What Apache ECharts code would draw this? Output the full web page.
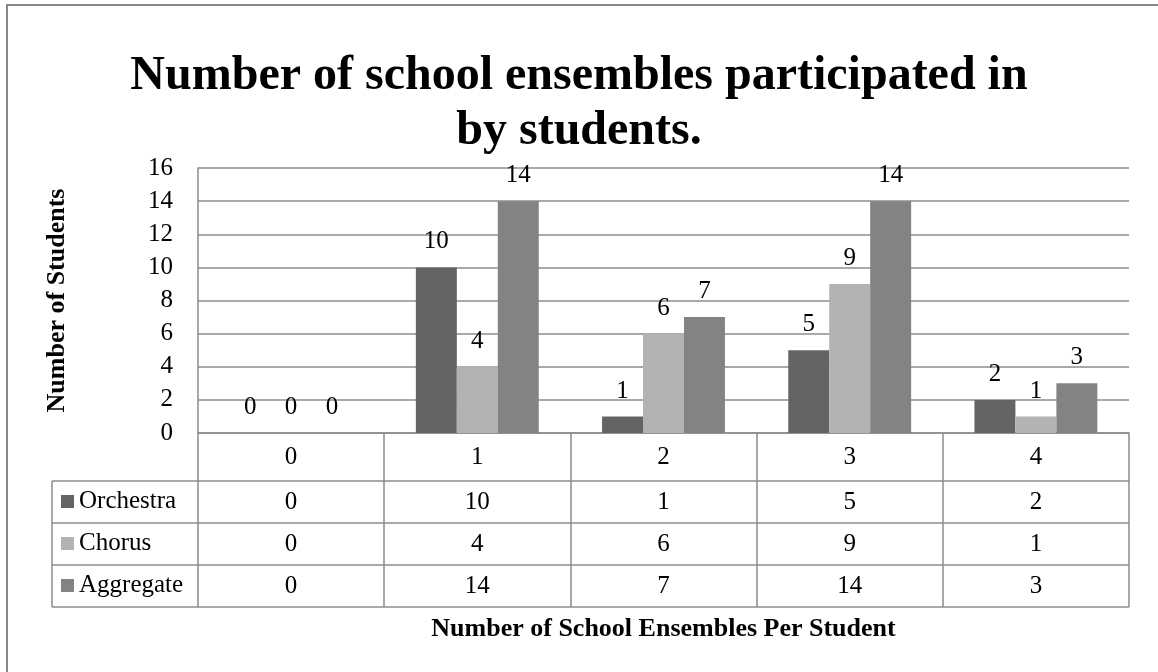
<!DOCTYPE html>
<html><head><meta charset="utf-8">
<script src="https://cdn.jsdelivr.net/npm/echarts@6/dist/echarts.min.js"></script>
<style>html,body{margin:0;padding:0;background:#fff}#c{width:1158px;height:672px}</style>
</head><body><div id="c"></div>
<script>
// ---- data ----
const categories = ['0', '1', '2', '3', '4'];
const seriesNames = ['Orchestra', 'Chorus', 'Aggregate'];
const orchestra = [0, 10, 1, 5, 2];
const chorus = [0, 4, 6, 9, 1];
const aggregate = [0, 14, 7, 14, 3];
const yMin = 0, yMax = 16, yInterval = 2;
const titleText = 'Number of school ensembles participated in\nby students.';
const xTitle = 'Number of School Ensembles Per Student';
const yTitle = 'Number of Students';

// ---- style ----
const FONT = "'Liberation Serif','Times New Roman',serif";
const colors = ['#646464', '#b3b3b3', '#838383'];
const W = 1158, H = 672;
const gLeft = 198, gRight = 1129, gTop = 168, gBottom = 433;
const headerH = 48, rowH = 42;
const tableLeft = 52;
const lineColor = '#8c8c8c';
const lw = 1.5;
const rows = [orchestra, chorus, aggregate];
const tableBottom = gBottom + headerH + rowH * rows.length;

const chart = echarts.init(document.getElementById('c'), null, {renderer: 'canvas'});

const xAxes = [{
  type: 'category', data: categories, position: 'bottom', gridIndex: 0,
  axisLine: {show: true, lineStyle: {color: lineColor, width: lw}},
  axisTick: {show: true, length: tableBottom - gBottom, lineStyle: {color: lineColor, width: lw}},
  axisLabel: {fontSize: 25, color: '#000', fontFamily: FONT, margin: headerH / 2, verticalAlign: 'middle', lineHeight: 25},
  splitLine: {show: false},
  name: xTitle, nameLocation: 'middle', nameGap: 183,
  nameTextStyle: {fontSize: 26, fontWeight: 'bold', color: '#000', fontFamily: FONT, lineHeight: 26}
}];
rows.forEach((r, i) => {
  xAxes.push({
    type: 'category', data: categories, position: 'bottom', gridIndex: 0,
    axisLine: {show: false}, axisTick: {show: false}, splitLine: {show: false},
    axisLabel: {
      fontSize: 25, color: '#000', fontFamily: FONT, verticalAlign: 'middle', lineHeight: 25,
      margin: headerH + rowH * i + rowH / 2,
      formatter: (v, idx) => String(r[idx])
    }
  });
});

const graphics = [
  {type: 'rect', shape: {x: 7, y: 5, width: W + 20, height: H + 20}, style: {fill: 'none', stroke: '#888', lineWidth: 2}, silent: true}
];
for (let i = 0; i <= rows.length; i++) {
  const y = gBottom + headerH + rowH * i;
  graphics.push({type: 'line', shape: {x1: tableLeft, y1: y, x2: gRight, y2: y}, style: {stroke: lineColor, lineWidth: lw}, silent: true});
}
graphics.push({type: 'line', shape: {x1: tableLeft, y1: gBottom + headerH, x2: tableLeft, y2: tableBottom}, style: {stroke: lineColor, lineWidth: lw}, silent: true});

const option = {
  animation: false,
  backgroundColor: '#fff',
  title: {
    text: titleText, left: 'center', top: 44,
    textStyle: {fontSize: 48, fontWeight: 'bold', color: '#000', fontFamily: FONT, lineHeight: 55}
  },
  legend: {
    data: seriesNames, orient: 'vertical', left: 61, top: 489, padding: 0,
    itemWidth: 13, itemHeight: 13, itemGap: 17, icon: 'rect',
    itemStyle: {borderWidth: 0},
    textStyle: {fontSize: 25, color: '#000', fontFamily: FONT},
    selectedMode: false
  },
  grid: {left: gLeft, right: W - gRight, top: gTop, bottom: H - gBottom, containLabel: false},
  xAxis: xAxes,
  yAxis: {
    type: 'value', min: yMin, max: yMax, interval: yInterval,
    axisLine: {show: true, lineStyle: {color: lineColor, width: lw}},
    axisTick: {show: false},
    axisLabel: {fontSize: 25, color: '#000', fontFamily: FONT, margin: 25},
    splitLine: {show: true, lineStyle: {color: lineColor, width: lw, type: 'solid'}},
    name: yTitle, nameLocation: 'middle', nameGap: 128, nameRotate: 90,
    nameTextStyle: {fontSize: 26, fontWeight: 'bold', color: '#000', fontFamily: FONT}
  },
  series: rows.map((r, i) => ({
    type: 'bar', name: seriesNames[i], data: r, xAxisIndex: 0,
    barGap: '0%', barCategoryGap: '34%',
    itemStyle: {color: colors[i], borderWidth: 0},
    label: {show: true, position: 'top', distance: 13, fontSize: 25, color: '#000', fontFamily: FONT},
    emphasis: {disabled: true}
  })),
  graphic: graphics
};
chart.setOption(option);
</script></body></html>
